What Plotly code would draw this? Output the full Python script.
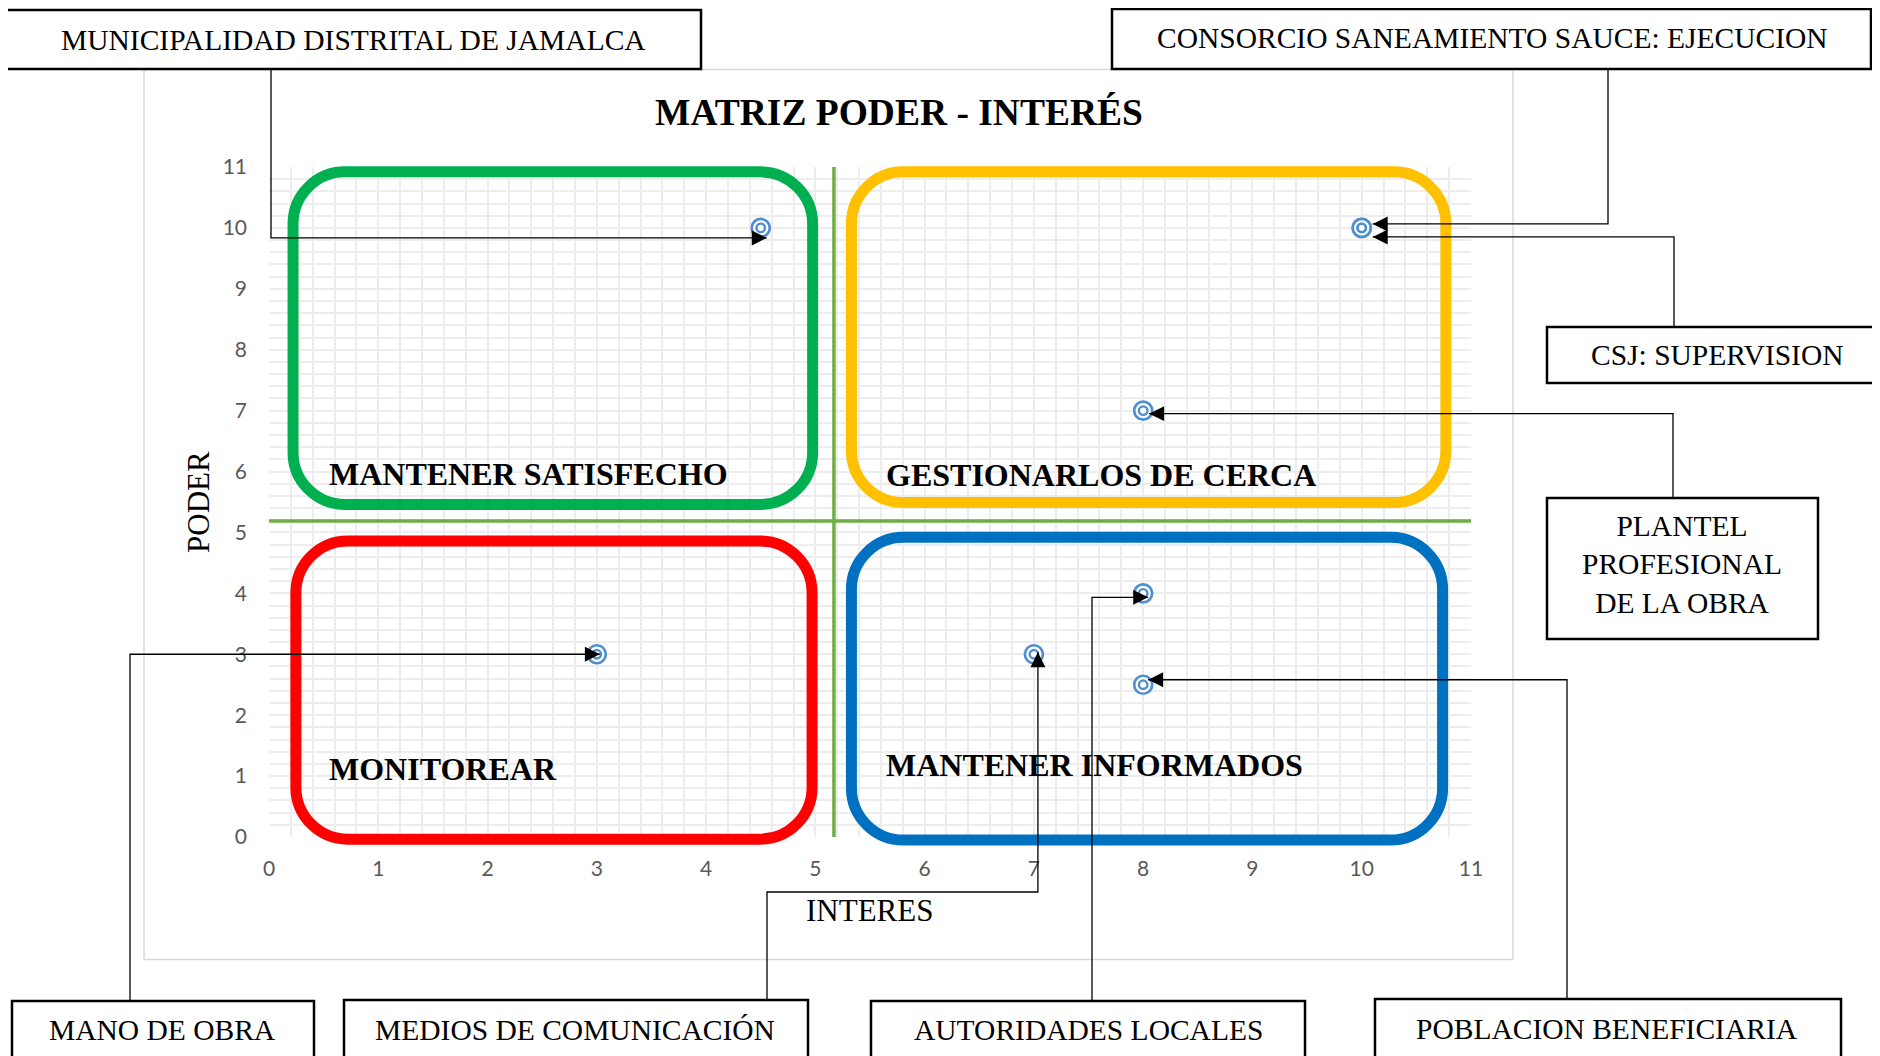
import plotly.graph_objects as go

# ---- data: stakeholders placed on the power / interest matrix ----
STAKEHOLDERS = [
    "MUNICIPALIDAD DISTRITAL DE JAMALCA",
    "CONSORCIO SANEAMIENTO SAUCE: EJECUCION",
    "CSJ: SUPERVISION",
    "PLANTEL<br>PROFESIONAL<br>DE LA OBRA",
    "MANO DE OBRA",
    "MEDIOS DE COMUNICACIÓN",
    "AUTORIDADES LOCALES",
    "POBLACION BENEFICIARIA",
]
INTERES = [4.5, 10, 10, 8, 3, 7, 8, 8]
PODER = [10, 10, 10, 7, 3, 3, 4, 2.5]

AXIS_TICKS = list(range(0, 12))
DIV_INTERES = 5.17          # vertical divider (interest)
DIV_PODER = 5.19            # horizontal divider (power)

QUADRANT_LABELS = ["MANTENER SATISFECHO", "GESTIONARLOS DE CERCA", "MONITOREAR", "MANTENER INFORMADOS"]

TITLE = "MATRIZ PODER - INTERÉS"
X_TITLE = "INTERES"
Y_TITLE = "PODER"

# ---- layout constants (page pixels) ----
FIG_W, FIG_H = 1880, 1056
PAGE_OFF = 8                # body margin of the html page
ML, MR, MT, MB = 269, 409, 167, 219
PW = FIG_W - ML - MR
PH = FIG_H - MT - MB
X_MAX = Y_MAX = 11

SERIF = "Liberation Serif, Times New Roman, serif"
BLUE = "#4F8FD0"

# rounded quadrant frames (data units: left, right, bottom, top) and colours
QUAD_FRAMES = [
    (0.22, 4.975, 5.46, 10.92, "#00B050"),
    (5.33, 10.77, 5.49, 10.92, "#FFC000"),
    (0.246, 4.97, -0.035, 4.86, "#FF0000"),
    (5.33, 10.74, -0.05, 4.92, "#0070C0"),
]
QUAD_LABEL_POS = [(0.53, 5.96), (5.63, 5.94), (0.53, 1.12), (5.63, 1.18)]

# label boxes in page pixels: x0, y0, x1, y1, text centre x, text centre y
BOXES = [
    (6, 10, 701, 69, 353, 40),
    (1112, 9, 1871, 69, 1492, 38),
    (1547, 327, 1890, 383, 1717, 355),
    (1547, 498, 1818, 639, 1682, 564),
    (12, 1001, 314, 1070, 162, 1030),
    (344, 1000, 808, 1070, 575, 1030),
    (871, 1001, 1305, 1070, 1088, 1030),
    (1375, 999, 1841, 1070, 1607, 1029),
]
BOX_FONT = [29.5, 29.5, 29.5, 29.5, 29.5, 29.5, 29.5, 29.5]

# connectors: start (page px), route kind, mid level (px), tip offset from marker (px)
CONNECTORS = [
    ((271, 69), "vh", None, (6, 10)),
    ((1608, 69), "vh", None, (11, -4)),
    ((1674, 327), "vh", None, (11, 9)),
    ((1673, 498), "vh", None, (6, 3)),
    ((130, 1001), "vh", None, (3, 0)),
    ((767, 1000), "vhv", 892, (4, -2)),
    ((1092, 1001), "vh", None, (5, 4)),
    ((1567, 999), "vh", None, (5, -5)),
]


def fx(p):
    return (p - ML) / PW


def fy(p):
    return (FIG_H - MB - p) / PH


def to_px(x, y):
    return ML + x / X_MAX * PW, FIG_H - MB - y / Y_MAX * PH


def rounded_path(l, r, b, t, rad=52):
    l, r = l / X_MAX, r / X_MAX
    b, t = b / Y_MAX, t / Y_MAX
    rx, ry = rad / PW, rad / PH
    k = 0.5523
    return (
        f"M{l+rx},{t} L{r-rx},{t} "
        f"C{r-rx+k*rx},{t} {r},{t-ry+k*ry} {r},{t-ry} "
        f"L{r},{b+ry} "
        f"C{r},{b+ry-k*ry} {r-rx+k*rx},{b} {r-rx},{b} "
        f"L{l+rx},{b} "
        f"C{l+rx-k*rx},{b} {l},{b+ry-k*ry} {l},{b+ry} "
        f"L{l},{t-ry} "
        f"C{l},{t-ry+k*ry} {l+rx-k*rx},{t} {l+rx},{t} Z"
    )


fig = go.Figure()

# quadrant dividers
fig.add_trace(go.Scatter(x=[DIV_INTERES, DIV_INTERES], y=[0, Y_MAX], mode="lines",
                         line=dict(color="#70AD47", width=3.5), hoverinfo="skip"))
fig.add_trace(go.Scatter(x=[0, X_MAX], y=[DIV_PODER, DIV_PODER], mode="lines",
                         line=dict(color="#70AD47", width=3.5), hoverinfo="skip"))

# stakeholder markers (outer ring + inner ring)
fig.add_trace(go.Scatter(x=INTERES, y=PODER, mode="markers", text=STAKEHOLDERS,
                         marker=dict(symbol="circle", size=18, color="white",
                                     line=dict(color=BLUE, width=2.7)), cliponaxis=False))
fig.add_trace(go.Scatter(x=INTERES, y=PODER, mode="markers", hoverinfo="skip",
                         marker=dict(symbol="circle-open", size=8.5, color=BLUE,
                                     line=dict(color=BLUE, width=2.4)), cliponaxis=False))

shapes = []
# chart area frame
shapes.append(dict(type="rect", xref="paper", yref="paper", layer="below",
                   x0=fx(144), x1=fx(1513), y0=fy(69.5), y1=fy(959.5),
                   line=dict(color="#d9d9d9", width=1.5), fillcolor="rgba(0,0,0,0)"))

for l, r, b, t, col in QUAD_FRAMES:
    shapes.append(dict(type="path", xref="paper", yref="paper", layer="above",
                       path=rounded_path(l, r, b, t), line=dict(color=col, width=11)))

annotations = []

# connectors with arrowheads
for i, (start, kind, mid, off) in enumerate(CONNECTORS):
    mx, my = to_px(INTERES[i], PODER[i])
    tx, ty = mx + off[0], my + off[1]
    sx, sy = start
    if kind == "vh":
        pts = [(sx, sy), (sx, ty), (tx, ty)]
    else:
        pts = [(sx, sy), (sx, mid), (tx, mid), (tx, ty)]
    path = "M" + " L".join(f"{fx(a)},{fy(b)}" for a, b in pts)
    shapes.append(dict(type="path", xref="paper", yref="paper", layer="above",
                       path=path, line=dict(color="black", width=1.3)))
    px_, py_ = pts[-2]
    dx, dy = px_ - tx, py_ - ty
    n = (dx * dx + dy * dy) ** 0.5
    annotations.append(dict(x=fx(tx), y=fy(ty), xref="paper", yref="paper", text="",
                            showarrow=True, ax=dx / n * 16, ay=dy / n * 16,
                            arrowhead=2, arrowsize=2.3, arrowwidth=1.3,
                            arrowcolor="black", standoff=0))

# label boxes
for (x0, y0, x1, y1, cx, cy), name, fs in zip(BOXES, STAKEHOLDERS, BOX_FONT):
    shapes.append(dict(type="rect", xref="paper", yref="paper", layer="above",
                       x0=fx(x0), x1=fx(x1), y0=fy(y1), y1=fy(y0),
                       line=dict(color="black", width=2.5), fillcolor="white"))
    annotations.append(dict(x=fx(cx), y=fy(cy), xref="paper", yref="paper", text=name,
                            showarrow=False, xanchor="center", yanchor="middle",
                            font=dict(family=SERIF, size=fs, color="black")))

# quadrant labels
for lab, (qx, qy) in zip(QUADRANT_LABELS, QUAD_LABEL_POS):
    annotations.append(dict(x=qx, y=qy, xref="x", yref="y", text=f"<b>{lab}</b>",
                            showarrow=False, xanchor="left", yanchor="middle",
                            font=dict(family=SERIF, size=32, color="black")))

# title and axis titles
annotations.append(dict(x=fx(899), y=fy(113), xref="paper", yref="paper", text=f"<b>{TITLE}</b>",
                        showarrow=False, xanchor="center", yanchor="middle",
                        font=dict(family=SERIF, size=37.5, color="black")))
annotations.append(dict(x=fx(869), y=fy(910), xref="paper", yref="paper", text=X_TITLE,
                        showarrow=False, xanchor="center", yanchor="middle",
                        font=dict(family=SERIF, size=31, color="black")))
annotations.append(dict(x=fx(198), y=fy(502), xref="paper", yref="paper", text=Y_TITLE,
                        showarrow=False, xanchor="center", yanchor="middle", textangle=-90,
                        font=dict(family=SERIF, size=31, color="black")))

# the page adds an 8px body margin, so shift the figure margins to compensate
fig.update_layout(
    width=FIG_W, height=FIG_H,
    margin=dict(l=ML - PAGE_OFF, r=MR + PAGE_OFF, t=MT - PAGE_OFF, b=MB + PAGE_OFF),
    paper_bgcolor="white", plot_bgcolor="white",
    showlegend=False,
    shapes=shapes, annotations=annotations,
)

grid = dict(range=[0, X_MAX], tickvals=AXIS_TICKS, showline=False, zeroline=False,
            showgrid=True, gridcolor="#ededed", gridwidth=1.6,
            minor=dict(dtick=0.2, showgrid=True, gridcolor="#ededed", gridwidth=1.6),
            tickfont=dict(family="Lato, sans-serif", size=21, color="#595959"), ticks="")
fig.update_xaxes(**grid, ticklabelstandoff=17)
fig.update_yaxes(**grid, ticklabelstandoff=21)

fig.write_html("out.html")
